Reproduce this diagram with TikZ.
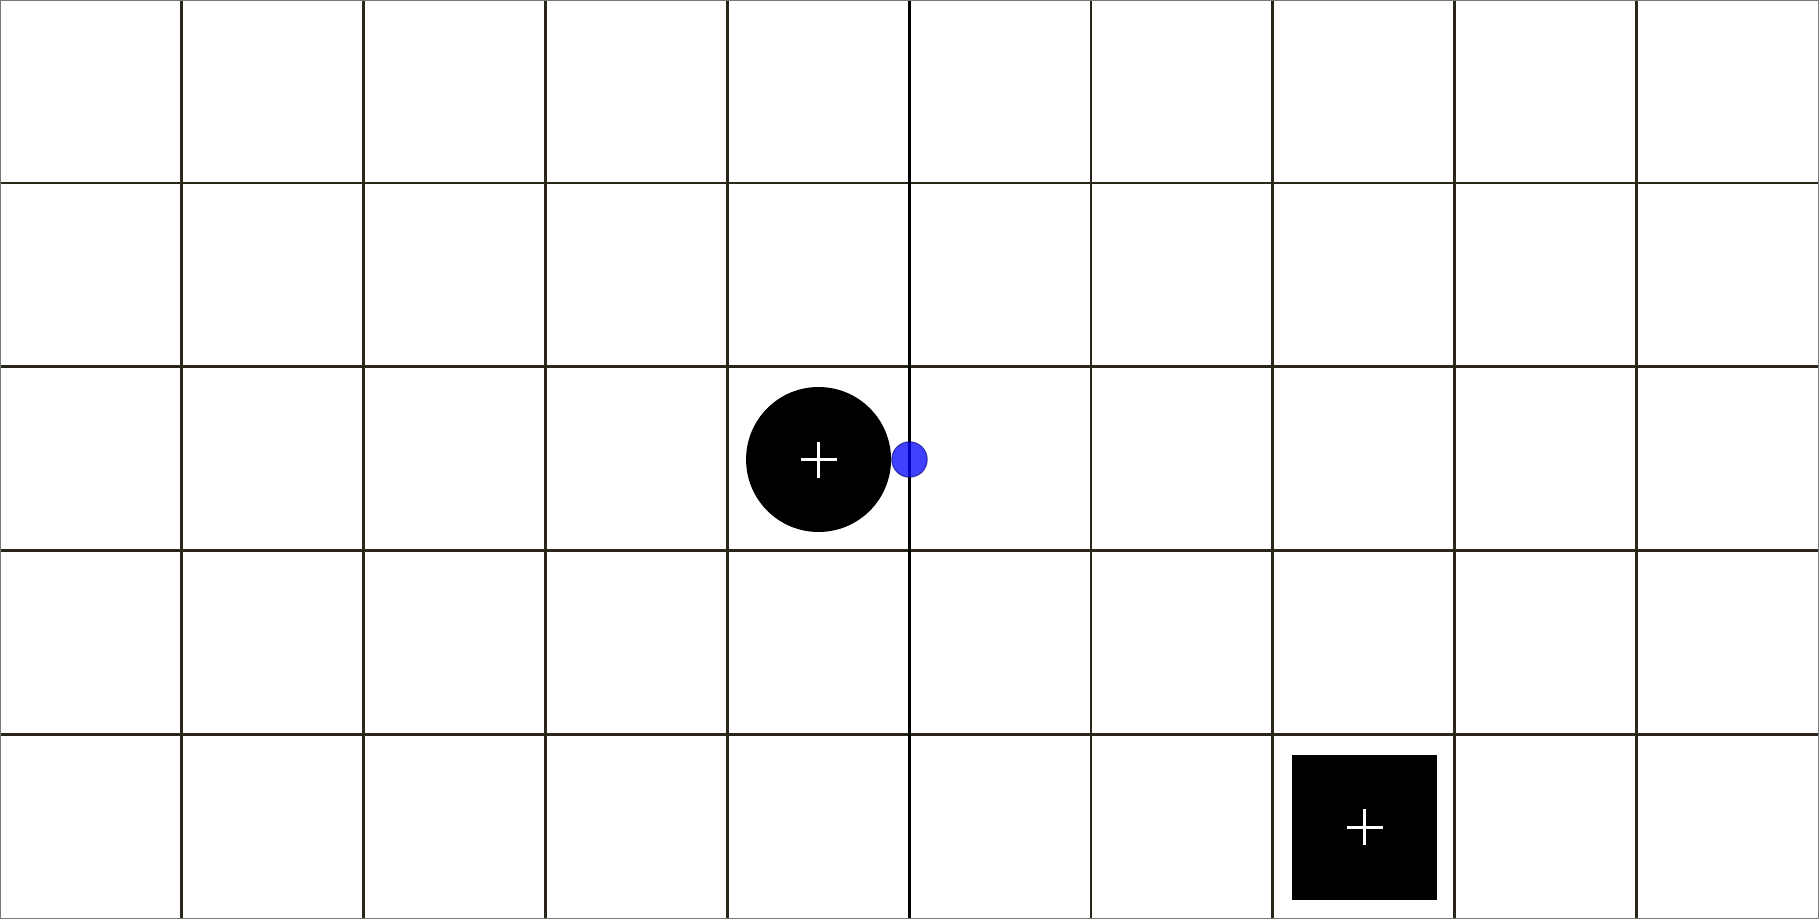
\documentclass[tikz,border=0pt]{standalone}
\definecolor{gridc}{RGB}{42,38,26}
\definecolor{edgec}{RGB}{120,120,120}
\begin{document}
\begin{tikzpicture}[x=0.5pt,y=-0.5pt,
  gridline/.style={draw=gridc,line width=1.4pt},
  midline/.style={draw=black,line width=1.1pt},
  disk/.style={circle,fill=black,minimum size=72.5pt,inner sep=0pt},
  block/.style={rectangle,fill=black,minimum size=72.75pt,inner sep=0pt},
  dot/.style={circle,fill=blue,fill opacity=0.75,draw=black!60!blue,draw opacity=0.6,line width=0.5pt,minimum size=17.75pt,inner sep=0pt},
  crossline/.style={draw=white,line width=1.2pt}]
\useasboundingbox (0,0) rectangle (1819,919);
\fill[white] (0,0) rectangle (1819,919);
\foreach \i in {1,2,3,4,6,7,8,9} {
  \draw[gridline] (\i*181.9-0.5,0) -- (\i*181.9-0.5,919);
}
\foreach \j in {1,2,3,4} {
  \draw[gridline] (0,\j*183.8-0.7) -- (1819,\j*183.8-0.7);
}
\draw[midline] (909.5,0) -- (909.5,919);
\draw[edgec,line width=0.5pt] (0.5,0.5) rectangle (1818.5,918.5);
\node[disk] (obj) at (818.55,459.5) {};
\node[block] (goal) at (1364.5,827.3) {};
\draw[crossline] (obj.center) ++(-18,0) -- ++(36,0);
\draw[crossline] (obj.center) ++(0,-18) -- ++(0,36);
\draw[crossline] (goal.center) ++(-18,0) -- ++(36,0);
\draw[crossline] (goal.center) ++(0,-18) -- ++(0,36);
\node[dot] (marker) at (909.5,459.5) {};
\end{tikzpicture}
\end{document}
